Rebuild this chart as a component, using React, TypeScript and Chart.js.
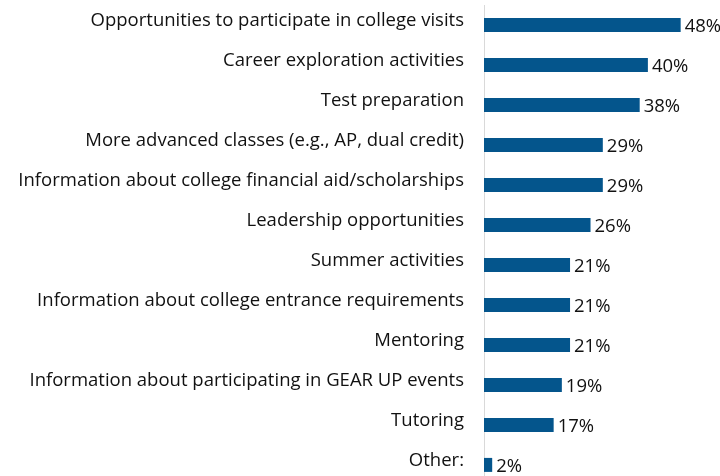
import React, { useEffect, useRef } from "react";
import { Chart, registerables } from "chart.js";

Chart.register(...registerables);

const categories: string[] = [
  "Opportunities to participate in college visits",
  "Career exploration activities",
  "Test preparation",
  "More advanced classes (e.g., AP, dual credit)",
  "Information about college financial aid/scholarships",
  "Leadership opportunities",
  "Summer activities",
  "Information about college entrance requirements",
  "Mentoring",
  "Information about participating in GEAR UP events",
  "Tutoring",
  "Other:",
];
const values: number[] = [48, 40, 38, 29, 29, 26, 21, 21, 21, 19, 17, 2];

const FONT = "'Open Sans', 'Noto Sans', sans-serif";
const FONT_SIZE = 18.5;

const valueLabels = {
  id: "valueLabels",
  afterDatasetsDraw(chart: any) {
    const ctx = chart.ctx;
    const meta = chart.getDatasetMeta(0);
    ctx.save();
    ctx.font = `18.5px ${FONT}`;
    ctx.fillStyle = "#111";
    ctx.textAlign = "left";
    ctx.textBaseline = "middle";
    meta.data.forEach((bar: any, i: number) => {
      ctx.fillText(`${values[i]}%`, bar.x + 4, bar.y + 2);
    });
    ctx.restore();
  },
};

export default function App() {
  const ref = useRef<HTMLCanvasElement>(null);
  useEffect(() => {
    if (!ref.current) return;
    const chart = new Chart(ref.current, {
      type: "bar",
      data: {
        labels: categories,
        datasets: [
          {
            data: values,
            backgroundColor: "#04558C",
            borderWidth: 0,
            barPercentage: 0.7,
            categoryPercentage: 0.5,
          },
        ],
      },
      options: {
        indexAxis: "y",
        animation: false,
        responsive: false,
        maintainAspectRatio: false,
        layout: { padding: 0 },
        plugins: { legend: { display: false }, tooltip: { enabled: false } },
        scales: {
          x: {
            min: 0,
            max: 57.6,
            display: false,
            grid: { display: false },
          },
          y: {
            afterFit(scale: any) {
              scale.width = 484;
            },
            grid: {
              display: true,
              drawOnChartArea: false,
              drawTicks: true,
              tickLength: 20,
              color: "rgba(0,0,0,0)",
            },
            border: { display: true, color: "#d9d9d9", width: 1 },
            ticks: {
              color: "#111",
              font: { family: FONT, size: FONT_SIZE },
              padding: 0,
              labelOffset: -4,
              autoSkip: false,
            },
          },
        },
      },
      plugins: [valueLabels],
    });
    return () => chart.destroy();
  }, []);
  return (
    <div style={{ position: "fixed", left: 0, top: -6, width: 720, height: 502 }}>
      <canvas ref={ref} width={720} height={502} />
    </div>
  );
}
